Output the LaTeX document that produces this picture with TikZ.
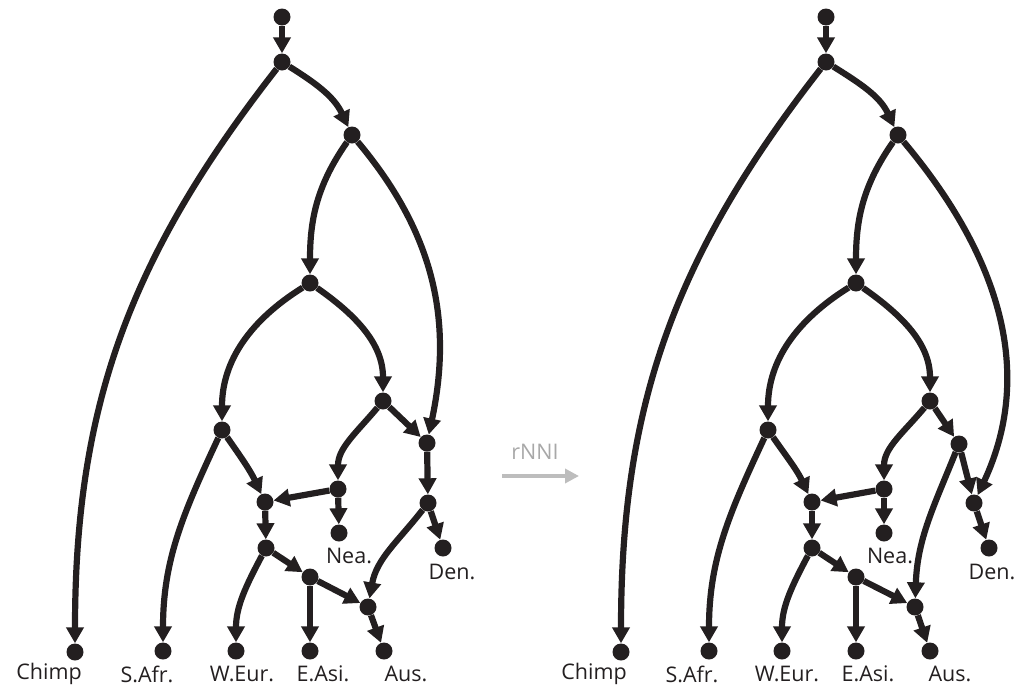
\documentclass[tikz,border=0pt]{standalone}
\usepackage{fontspec}
\setmainfont{Open Sans}
\usetikzlibrary{arrows.meta}
\definecolor{ink}{HTML}{231F20}
\definecolor{gline}{HTML}{BDBDBD}
\definecolor{gtext}{HTML}{A8A8A8}
\tikzset{
  dot/.style={circle,fill=ink,inner sep=0pt,minimum size=17pt},
  edge/.style={draw=ink,line width=6.2pt,-{Triangle[length=16pt,width=17pt]}},
  lbl/.style={font=\fontsize{21.5}{25}\selectfont,text=ink,inner sep=0pt}
}
\begin{document}
\begin{tikzpicture}[x=1pt,y=-1pt]
\useasboundingbox (0,0) rectangle (1026,686);
% ---------------- left network ----------------
\node[dot] (Lr0) at (282,17) {};
\node[dot] (Lr1) at (282,62) {};
\node[dot] (Lr2) at (352,135) {};
\node[dot] (Lr3) at (310,283) {};
\node[dot] (Lr4) at (222,430) {};
\node[dot] (Lr5) at (383,401) {};
\node[dot] (LD1) at (427,443) {};
\node[dot] (LD2) at (428,503) {};
\node[dot] (LN1) at (338,489) {};
\node[dot] (LH1) at (265,502) {};
\node[dot] (LH2) at (266,548) {};
\node[dot] (LE) at (310,577) {};
\node[dot] (LA) at (368,607) {};
\node[dot] (Lchimp) at (75,652) {};
\node[dot] (Lsafr) at (163,651) {};
\node[dot] (Lweur) at (236,651) {};
\node[dot] (Leasi) at (310,651) {};
\node[dot] (Laus) at (384,651) {};
\node[dot] (Lnea) at (339,533) {};
\node[dot] (Lden) at (443,548) {};
\node[lbl] (LtChimp) at (49,674) {Chimp};
\node[lbl] (LtSAfr) at (147,674) {S.Afr.};
\node[lbl] (LtWEur) at (242,674) {W.Eur.};
\node[lbl] (LtEAsi) at (323,674) {E.Asi.};
\node[lbl] (LtAus) at (406,674) {Aus.};
\node[lbl] (LtNea) at (349,556) {Nea.};
\node[lbl] (LtDen) at (452,572) {Den.};
\draw[edge] (Lr0) -- (Lr1);
\draw[edge] (Lr1) to[out=-128,in=90] (Lchimp);
\draw[edge] (Lr1) to[out=-32,in=115] (Lr2);
\draw[edge] (Lr2) to[out=-125,in=90] (Lr3);
\draw[edge] (Lr2) to[out=-50,in=78] (LD1);
\draw[edge] (Lr3) to[out=-148,in=90] (Lr4);
\draw[edge] (Lr3) to[out=-35,in=90] (Lr5);
\draw[edge] (Lr5) -- (LD1);
\draw[edge] (Lr5) to[out=-130,in=90] (LN1);
\draw[edge] (Lr4) to[out=-115,in=90] (Lsafr);
\draw[edge] (Lr4) to[out=-55,in=115] (LH1);
\draw[edge] (LN1) -- (LH1);
\draw[edge] (LN1) -- (Lnea);
\draw[edge] (LD1) -- (LD2);
\draw[edge] (LD2) -- (Lden);
\draw[edge] (LD2) to[out=-128,in=80] (LA);
\draw[edge] (LH1) -- (LH2);
\draw[edge] (LH2) to[out=-118,in=90] (Lweur);
\draw[edge] (LH2) -- (LE);
\draw[edge] (LE) -- (Leasi);
\draw[edge] (LE) -- (LA);
\draw[edge] (LA) -- (Laus);
% ---------------- arrow between ----------------
\node[font=\fontsize{21.5}{25}\selectfont,text=gtext,inner sep=0pt] (op) at (535,452) {rNNI};
\coordinate (opA) at (502,476);
\coordinate (opB) at (579,476);
\draw[draw=gline,line width=3.6pt,-{Triangle[length=14pt,width=14pt]}] (opA) -- (opB);
% ---------------- right network ----------------
\begin{scope}[xshift=546pt]
\node[dot] (Rr0) at (280,17) {};
\node[dot] (Rr1) at (280,62) {};
\node[dot] (Rr2) at (352,135) {};
\node[dot] (Rr3) at (310,283) {};
\node[dot] (Rr4) at (222,430) {};
\node[dot] (Rr5) at (384,401) {};
\node[dot] (RB) at (413,444) {};
\node[dot] (RD2) at (428,503) {};
\node[dot] (RN1) at (338,489) {};
\node[dot] (RH1) at (266,502) {};
\node[dot] (RH2) at (266,548) {};
\node[dot] (RE) at (310,577) {};
\node[dot] (RA) at (369,607) {};
\node[dot] (Rchimp) at (75,652) {};
\node[dot] (Rsafr) at (163,651) {};
\node[dot] (Rweur) at (236,651) {};
\node[dot] (Reasi) at (310,651) {};
\node[dot] (Raus) at (384,651) {};
\node[dot] (Rnea) at (338,533) {};
\node[dot] (Rden) at (443,548) {};
\node[lbl] (RtChimp) at (48,674) {Chimp};
\node[lbl] (RtSAfr) at (146,674) {S.Afr.};
\node[lbl] (RtWEur) at (241,674) {W.Eur.};
\node[lbl] (RtEAsi) at (322,674) {E.Asi.};
\node[lbl] (RtAus) at (404,674) {Aus.};
\node[lbl] (RtNea) at (344,556) {Nea.};
\node[lbl] (RtDen) at (446,572) {Den.};
\draw[edge] (Rr0) -- (Rr1);
\draw[edge] (Rr1) to[out=-128,in=90] (Rchimp);
\draw[edge] (Rr1) to[out=-32,in=115] (Rr2);
\draw[edge] (Rr2) to[out=-125,in=90] (Rr3);
\draw[edge] (Rr2) to[out=-50,in=65] (RD2);
\draw[edge] (Rr3) to[out=-148,in=90] (Rr4);
\draw[edge] (Rr3) to[out=-35,in=90] (Rr5);
\draw[edge] (Rr5) -- (RB);
\draw[edge] (Rr5) to[out=-130,in=90] (RN1);
\draw[edge] (Rr4) to[out=-115,in=90] (Rsafr);
\draw[edge] (Rr4) to[out=-55,in=115] (RH1);
\draw[edge] (RN1) -- (RH1);
\draw[edge] (RN1) -- (Rnea);
\draw[edge] (RB) -- (RD2);
\draw[edge] (RB) to[out=-112,in=88] (RA);
\draw[edge] (RD2) -- (Rden);
\draw[edge] (RH1) -- (RH2);
\draw[edge] (RH2) to[out=-118,in=90] (Rweur);
\draw[edge] (RH2) -- (RE);
\draw[edge] (RE) -- (Reasi);
\draw[edge] (RE) -- (RA);
\draw[edge] (RA) -- (Raus);
\end{scope}
\end{tikzpicture}
\end{document}
